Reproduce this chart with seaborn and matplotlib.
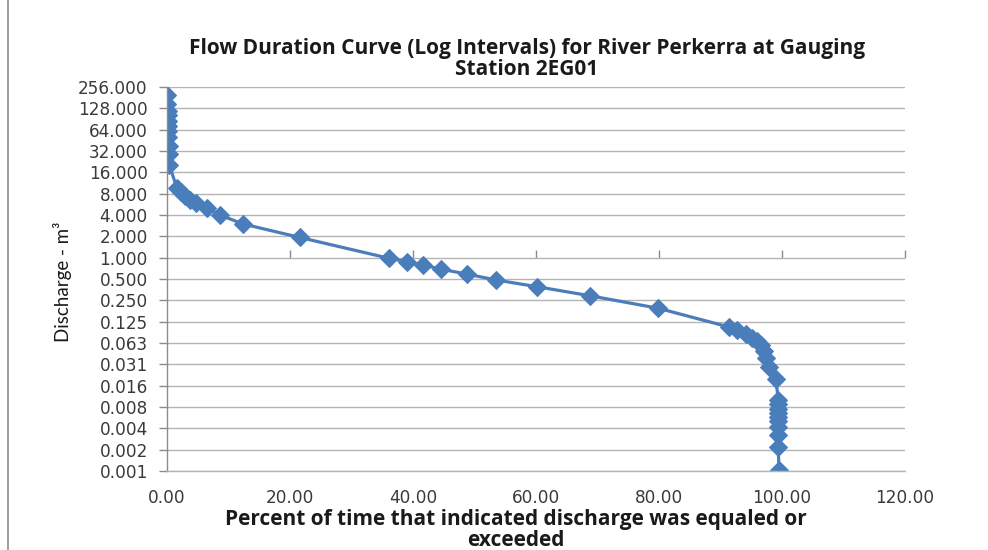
import numpy as np
import pandas as pd
import seaborn as sns
import matplotlib
matplotlib.use("Agg")
import matplotlib.pyplot as plt
from matplotlib.ticker import FixedLocator, FixedFormatter, NullLocator
from matplotlib.lines import Line2D
from decimal import Decimal, ROUND_HALF_UP

# Flow duration data for River Perkerra, gauging station 2EG01
percent_exceeded = [
    0.00, 0.05, 0.10, 0.10, 0.15, 0.15, 0.20, 0.20, 0.25, 0.30, 0.40,
    1.6, 2.3, 2.9, 3.7, 4.7, 6.5, 8.6, 12.4, 21.6,
    36.1, 39.0, 41.6, 44.6, 48.7, 53.5, 60.2, 68.8, 79.9,
    91.4, 92.7, 94.1, 95.1, 95.9, 96.6, 97.1, 97.4, 97.9, 99.0,
    99.4, 99.4, 99.4, 99.4, 99.4, 99.4, 99.4, 99.4, 99.4, 99.5,
]
discharge = [
    195, 149, 119, 102, 86, 73, 62, 50, 38, 29, 20,
    9.66, 8.48, 7.45, 6.54, 5.93, 5.03, 4.0, 2.98, 1.93,
    0.98, 0.877, 0.79, 0.686, 0.589, 0.484, 0.389, 0.29, 0.193,
    0.105, 0.095, 0.0836, 0.0745, 0.0664, 0.0583, 0.048, 0.038, 0.029, 0.0194,
    0.00975, 0.0085, 0.0074, 0.0065, 0.0057, 0.0049, 0.0041, 0.0031, 0.0021, 0.001,
]

# Axis tick values (log base 2 axis)
y_exponents = list(range(-10, 9))
x_ticks = [0, 20, 40, 60, 80, 100, 120]

title_text = "Flow Duration Curve (Log Intervals) for River Perkerra at Gauging\nStation 2EG01"
x_label = "Percent of time that indicated discharge was equaled or\nexceeded"
y_label = "Discharge - m\u00b3"


def fmt_half_up(v, places):
    q = Decimal(1).scaleb(-places)
    return str(Decimal(v).quantize(q, rounding=ROUND_HALF_UP))


df = pd.DataFrame({"pct": percent_exceeded, "q": discharge})

sns.set_theme(style="white")
plt.rcParams["font.family"] = ["DejaVu Sans"]

W, H = 988, 550
fig = plt.figure(figsize=(W / 100, H / 100), dpi=100)
ax = fig.add_axes([167 / W, 1 - 471 / H, (905 - 167) / W, (471 - 87) / H])

line_color = "#4A7EBB"
grid_color = "#B4B4B4"
axis_color = "#8C8C8C"
label_color = "#3a3a3a"

sns.lineplot(data=df, x="pct", y="q", sort=False, estimator=None, ax=ax,
             color=line_color, linewidth=2.3, marker="D", markersize=9.5,
             markeredgecolor=line_color, markerfacecolor=line_color, legend=False)

ax.set_yscale("log", base=2)
ax.set_ylim(2.0 ** y_exponents[0], 2.0 ** y_exponents[-1])
ax.set_xlim(x_ticks[0], x_ticks[-1])

y_ticks = [2.0 ** k for k in y_exponents]
ax.yaxis.set_major_locator(FixedLocator(y_ticks))
ax.yaxis.set_major_formatter(FixedFormatter([fmt_half_up(v, 3) for v in y_ticks]))
ax.yaxis.set_minor_locator(NullLocator())
ax.xaxis.set_major_locator(FixedLocator(x_ticks))
ax.xaxis.set_major_formatter(FixedFormatter([f"{v:.2f}" for v in x_ticks]))

ax.grid(axis="y", color=grid_color, linewidth=1.0)
ax.grid(axis="x", visible=False)
ax.set_axisbelow(True)

for side in ["top", "right"]:
    ax.spines[side].set_visible(False)
ax.spines["bottom"].set_color(grid_color)
ax.spines["bottom"].set_linewidth(1.0)
ax.spines["left"].set_color(axis_color)
ax.spines["left"].set_linewidth(1.0)

ax.tick_params(axis="y", direction="out", length=5.8, width=1.0, color=axis_color,
               pad=8, labelsize=12.2, labelcolor=label_color, left=True)
ax.tick_params(axis="x", length=0, pad=13, labelsize=12.2, labelcolor=label_color)

# Horizontal axis line crosses the value axis at 1.0
frac = (0 - y_exponents[0]) / (y_exponents[-1] - y_exponents[0])
sec = ax.secondary_xaxis(frac)
sec.xaxis.set_major_locator(FixedLocator(x_ticks[1:]))
sec.tick_params(axis="x", direction="out", length=5.8, width=1.0, color=axis_color,
                labelbottom=False, labeltop=False)
sec.spines["bottom"].set_color(axis_color)
sec.spines["bottom"].set_linewidth(1.0)
for s in ["top", "left", "right"]:
    sec.spines[s].set_visible(False)

ax.set_xlabel("")
ax.set_ylabel("")

fig.text(527 / W, 1 - 59 / H, title_text, ha="center", va="center",
         fontsize=15.0, fontweight="bold", family=["Open Sans", "DejaVu Sans"],
         linespacing=1.02, color="#1a1a1a")
fig.text(516 / W, 1 - 530 / H, x_label, ha="center", va="center",
         fontsize=15.0, fontweight="bold", family=["Open Sans", "DejaVu Sans"],
         linespacing=0.98, color="#1a1a1a")
fig.text(62 / W, 1 - 282 / H, y_label, ha="center", va="center", rotation=90,
         fontsize=13.5, family=["Lato", "DejaVu Sans"], color="#1a1a1a")

# Chart area border on the left
fig.add_artist(Line2D([8 / W, 8 / W], [0, 1], transform=fig.transFigure,
                      color="#8C8C8C", linewidth=1.2))

fig.savefig("out.png", dpi=100, facecolor="white")
